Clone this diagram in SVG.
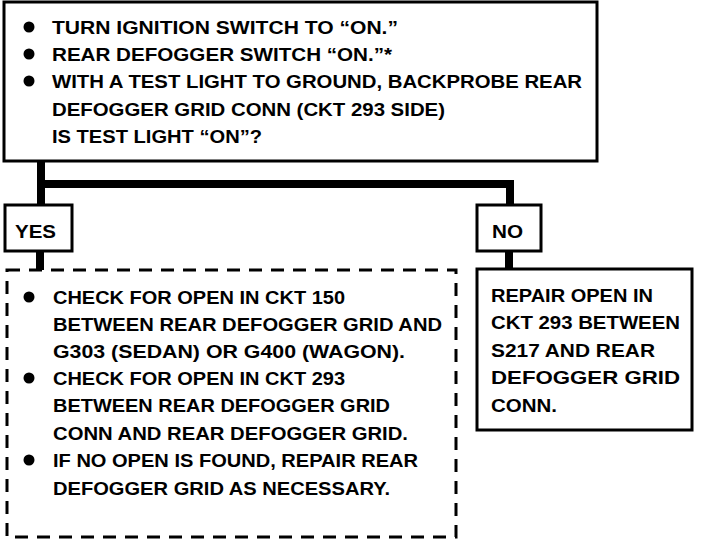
<svg xmlns="http://www.w3.org/2000/svg" width="704" height="542" viewBox="0 0 704 542">
<style>
.box{fill:#fff;stroke:#000;stroke-width:3}
.dash{fill:#fff;stroke:#000;stroke-width:3;stroke-dasharray:13 9}
.t{font-family:"Liberation Sans","DejaVu Sans",sans-serif;font-weight:bold;font-size:19px;fill:#000}
.w{stroke:#000;stroke-width:8;fill:none}
</style>
<rect width="704" height="542" fill="#fff"/>
<g id="connectors">
<line class="w" x1="41" y1="161" x2="41" y2="205"/>
<line class="w" x1="37" y1="184" x2="514" y2="184"/>
<line class="w" x1="510" y1="180" x2="510" y2="204"/>
<line class="w" x1="40" y1="251" x2="40" y2="270"/>
<line class="w" x1="509" y1="251" x2="509" y2="269"/>
</g>
<g id="question">
<rect class="box" x="4" y="2" width="593" height="159"/>
<circle cx="29" cy="27" r="5.5"/>
<circle cx="29" cy="54" r="5.5"/>
<circle cx="29" cy="81" r="5.5"/>
<text class="t" x="52" y="34" textLength="346" lengthAdjust="spacingAndGlyphs">TURN IGNITION SWITCH TO “ON.”</text>
<text class="t" x="52" y="61" textLength="340" lengthAdjust="spacingAndGlyphs">REAR DEFOGGER SWITCH “ON.”*</text>
<text class="t" x="52" y="88" textLength="530" lengthAdjust="spacingAndGlyphs">WITH A TEST LIGHT TO GROUND, BACKPROBE REAR</text>
<text class="t" x="52" y="116" textLength="393" lengthAdjust="spacingAndGlyphs">DEFOGGER GRID CONN (CKT 293 SIDE)</text>
<text class="t" x="52" y="143" textLength="210" lengthAdjust="spacingAndGlyphs">IS TEST LIGHT “ON”?</text>
</g>
<g id="yes">
<rect class="box" x="5" y="205" width="67" height="46"/>
<text class="t" x="15" y="238" textLength="41" lengthAdjust="spacingAndGlyphs">YES</text>
</g>
<g id="no">
<rect class="box" x="477" y="205" width="64" height="46"/>
<text class="t" x="492" y="238" textLength="31" lengthAdjust="spacingAndGlyphs">NO</text>
</g>
<g id="yes-action">
<rect class="dash" x="7" y="270" width="449" height="267"/>
<circle cx="29" cy="297" r="5.5"/>
<circle cx="29" cy="378" r="5.5"/>
<circle cx="29" cy="460" r="5.5"/>
<text class="t" x="53" y="304" textLength="292" lengthAdjust="spacingAndGlyphs">CHECK FOR OPEN IN CKT 150</text>
<text class="t" x="53" y="331" textLength="389" lengthAdjust="spacingAndGlyphs">BETWEEN REAR DEFOGGER GRID AND</text>
<text class="t" x="53" y="358" textLength="352" lengthAdjust="spacingAndGlyphs">G303 (SEDAN) OR G400 (WAGON).</text>
<text class="t" x="53" y="385" textLength="292" lengthAdjust="spacingAndGlyphs">CHECK FOR OPEN IN CKT 293</text>
<text class="t" x="53" y="412" textLength="337" lengthAdjust="spacingAndGlyphs">BETWEEN REAR DEFOGGER GRID</text>
<text class="t" x="53" y="440" textLength="355" lengthAdjust="spacingAndGlyphs">CONN AND REAR DEFOGGER GRID.</text>
<text class="t" x="53" y="467" textLength="365" lengthAdjust="spacingAndGlyphs">IF NO OPEN IS FOUND, REPAIR REAR</text>
<text class="t" x="53" y="495" textLength="337" lengthAdjust="spacingAndGlyphs">DEFOGGER GRID AS NECESSARY.</text>
</g>
<g id="no-action">
<rect class="box" x="477" y="269" width="215" height="161"/>
<text class="t" x="491" y="302" textLength="162" lengthAdjust="spacingAndGlyphs">REPAIR OPEN IN</text>
<text class="t" x="491" y="329" textLength="189" lengthAdjust="spacingAndGlyphs">CKT 293 BETWEEN</text>
<text class="t" x="491" y="357" textLength="164" lengthAdjust="spacingAndGlyphs">S217 AND REAR</text>
<text class="t" x="491" y="384" textLength="189" lengthAdjust="spacingAndGlyphs">DEFOGGER GRID</text>
<text class="t" x="491" y="412" textLength="66" lengthAdjust="spacingAndGlyphs">CONN.</text>
</g>
</svg>
